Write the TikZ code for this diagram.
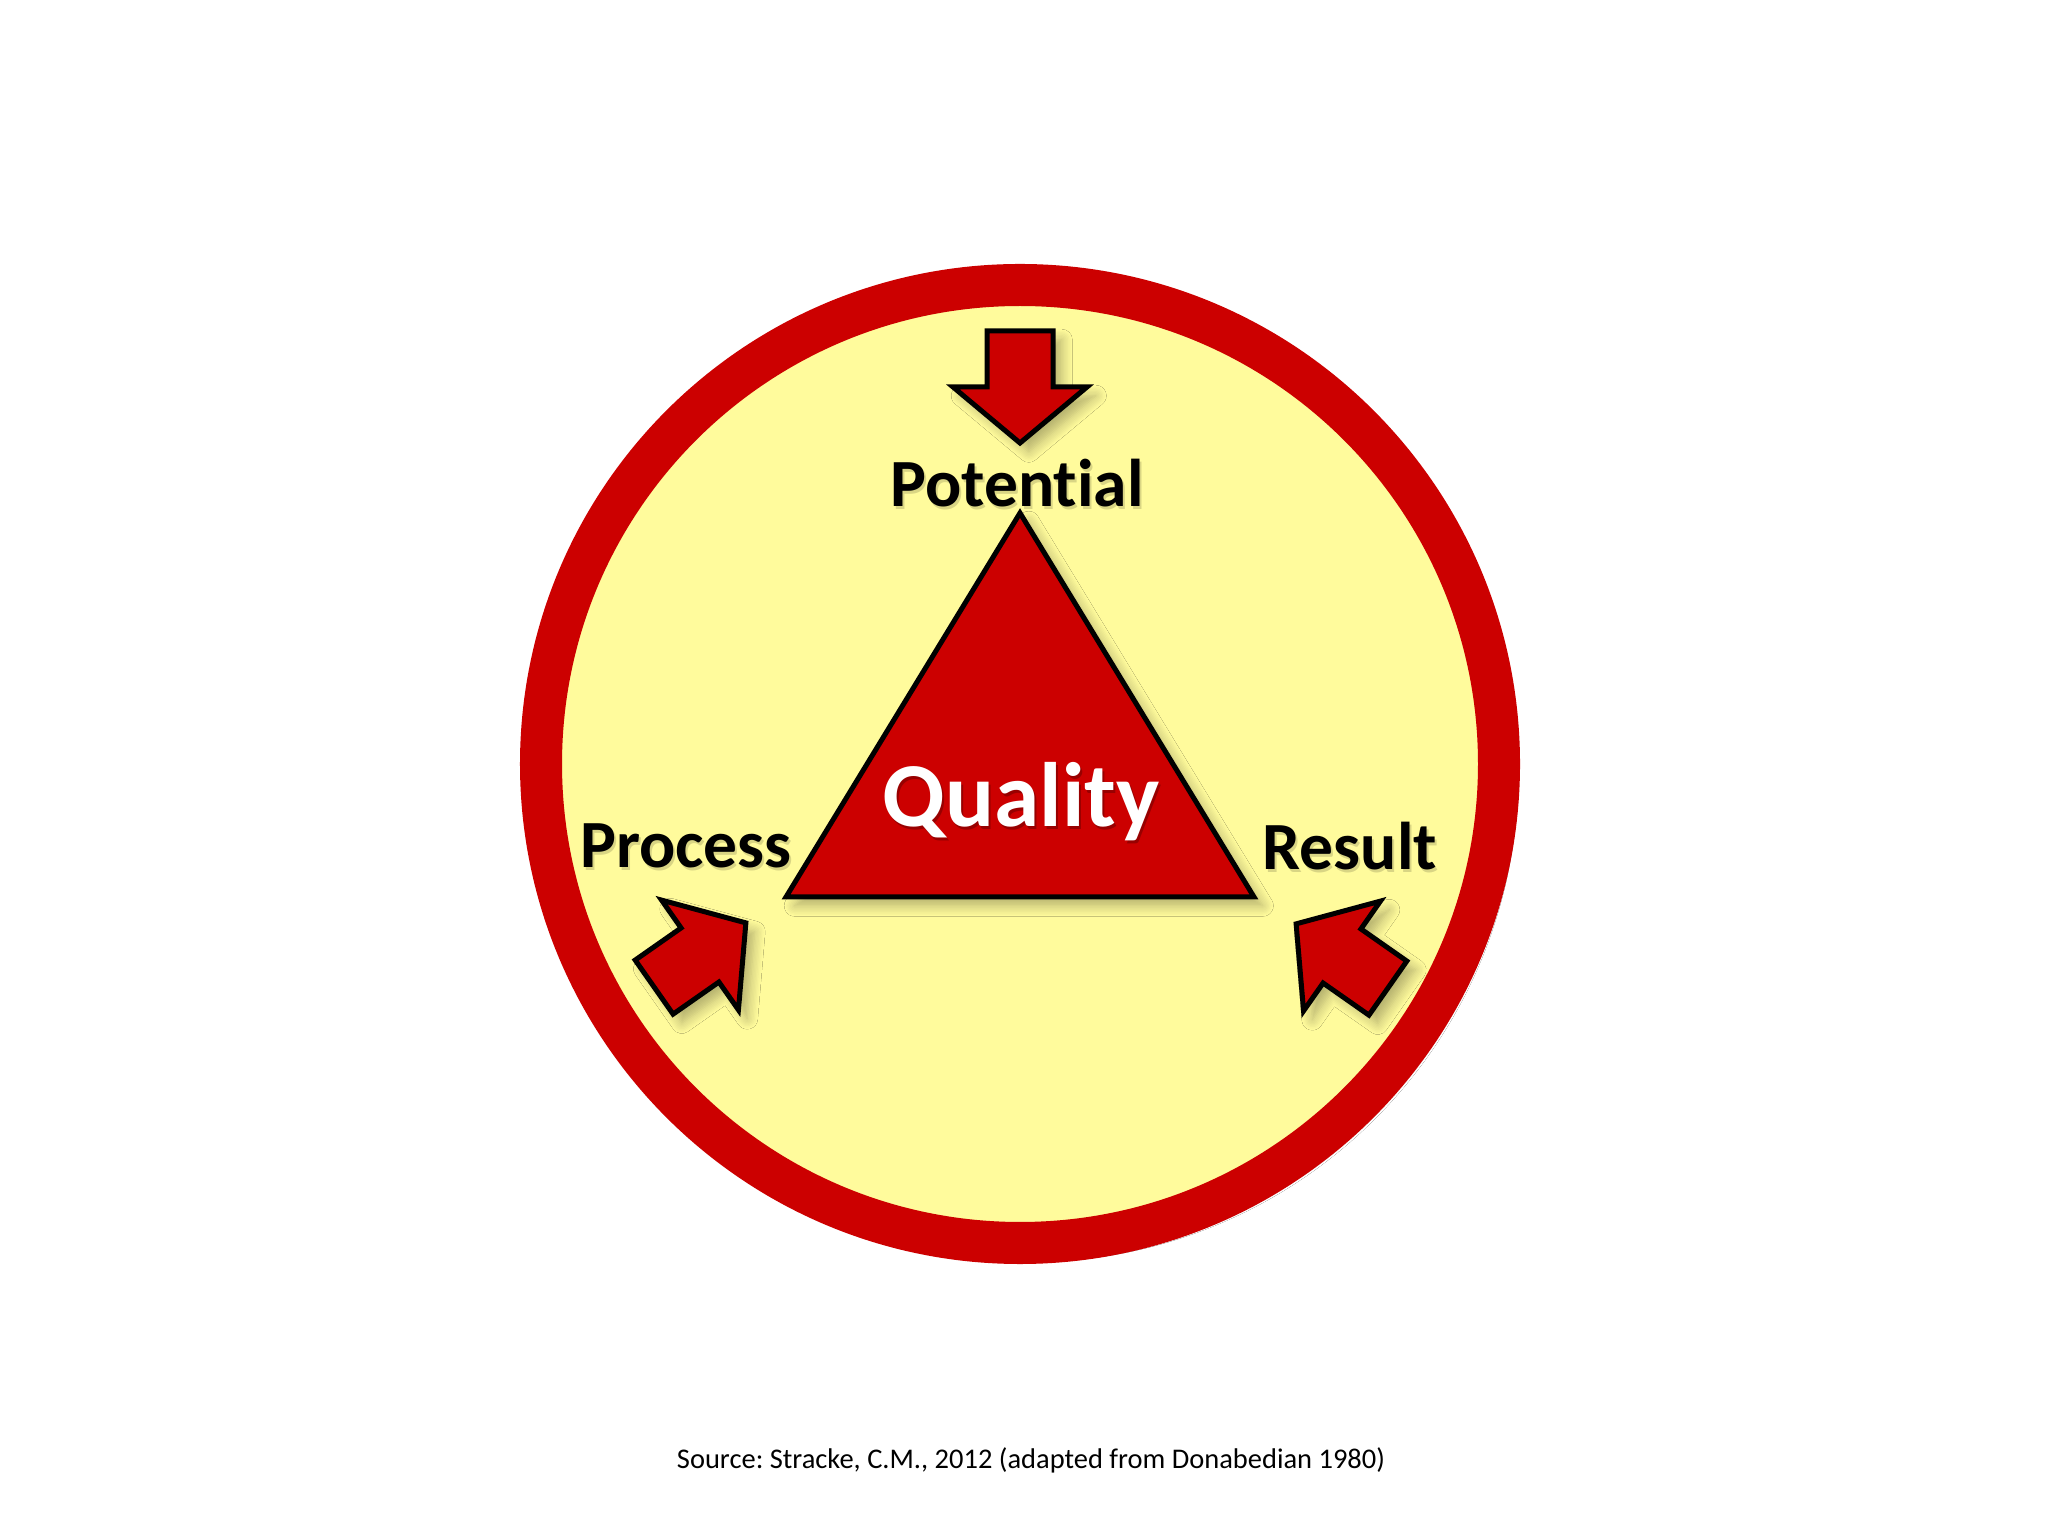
\documentclass[tikz,border=0pt]{standalone}
\usepackage{fontspec}
\setmainfont{Carlito}[Ligatures=NoCommon]
\usetikzlibrary{shadows.blur}
\definecolor{ringred}{HTML}{CC0000}
\definecolor{paleyellow}{HTML}{FFFB9C}
\frenchspacing

\begin{document}
\begin{tikzpicture}[x=0.01cm,y=0.01cm]
  \newcommand{\cenx}{1020};
  \newcommand{\ceny}{772};
  \newcommand{\ringr}{479};
  \useasboundingbox (0,0) rectangle (2048,1536);
  \fill[white] (0,0) rectangle (2048,1536);
  \tikzset{
    softshadow/.style={blur shadow={shadow xshift=2.5pt, shadow yshift=-2.5pt,
      shadow blur steps=8, shadow blur radius=3pt, shadow opacity=30}},
    arrowbox/.style={draw=black, fill=ringred, line width=0.05cm, softshadow},
    word/.style={font=\bfseries\fontsize{19.2}{23}\selectfont, text=black},
    wordshade/.style={font=\bfseries\fontsize{19.2}{23}\selectfont, text=black, opacity=0.15}
  }
  % ring
  \coordinate (pO) at (\cenx,\ceny);
  \draw[ringred, fill=paleyellow, line width=0.42cm, softshadow] (pO) circle (\ringr);
  % triangle
  \coordinate (pA) at (1020,1023);
  \coordinate (pB) at (786,639);
  \coordinate (pC) at (1254,639);
  \draw[arrowbox, line join=miter] (pA) -- (pB) -- (pC) -- cycle;
  % arrows
  \foreach \x/\y/\a in {1020/1149/-90, 700/581/35, 1342/580/145}{
    \draw[arrowbox, shift={(\x,\y)}, rotate=\a]
      (-56,-33) -- (0,-33) -- (0,-67) -- (56,0) -- (0,67) -- (0,33) -- (-56,33) -- cycle;
  }
  % labels
  \foreach \n/\x/\y/\t in {pot/1017/1053/Potential, pro/686/690/Process, res/1350/690/Result}{
    \node[wordshade] (\n s) at (\x+2,\y-3) {\t};
    \node[word] (\n) at (\x,\y) {\t};
  }
  \node[font=\bfseries\fontsize{26}{31}\selectfont, text=black, opacity=0.25] (quas) at (1023,731) {Quality};
  \node[font=\bfseries\fontsize{26}{31}\selectfont, text=white] (qua) at (1021,734) {Quality};
  \node[font=\fontsize{8.1}{10}\selectfont] (src) at (1031,76) {Source: Stracke, C.M., 2012 (adapted from Donabedian 1980)};
\end{tikzpicture}
\end{document}
